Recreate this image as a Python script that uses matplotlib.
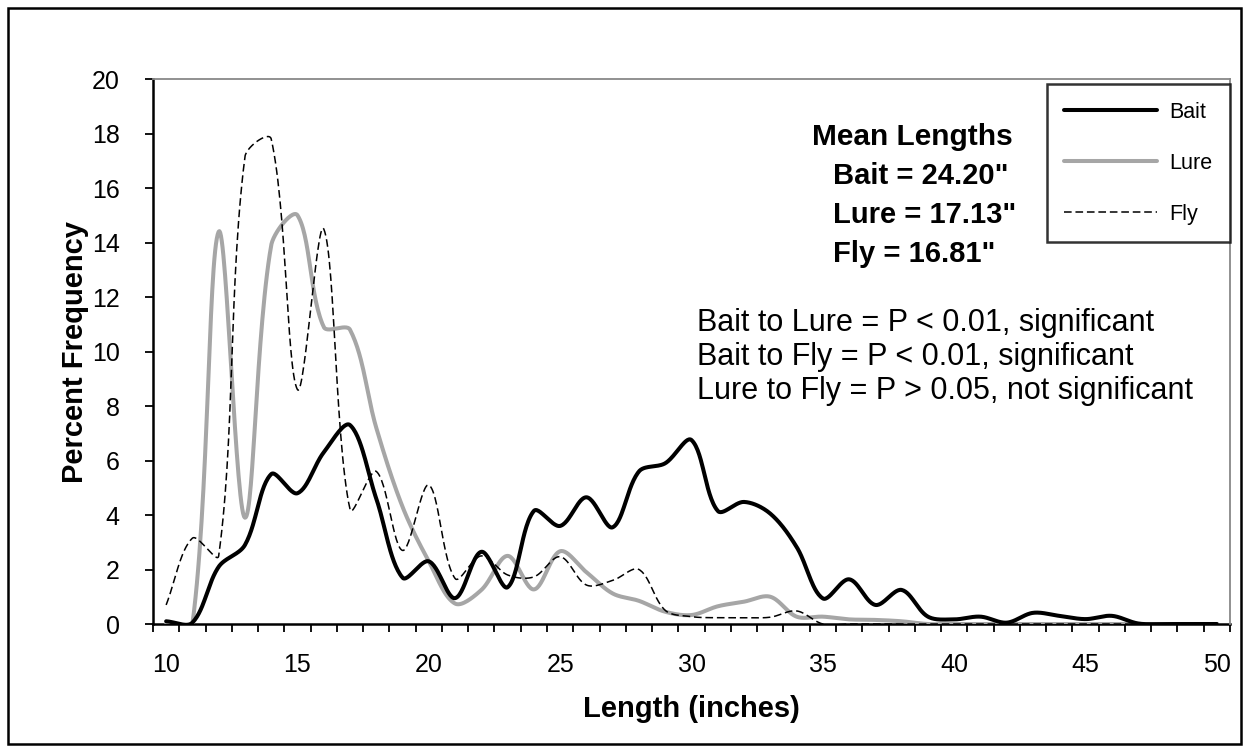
import numpy as np
import matplotlib
matplotlib.use("Agg")
import matplotlib.pyplot as plt
from matplotlib.patches import Rectangle

plt.rcParams['font.family'] = ['Liberation Sans', 'DejaVu Sans']

lengths = list(range(10, 51))
bait = [0.1, 0.05, 2.1, 2.9, 5.5, 4.8, 6.3, 7.3, 4.6, 1.7, 2.3, 0.95, 2.65, 1.35, 4.15, 3.6,
        4.65, 3.55, 5.6, 5.9, 6.75, 4.15, 4.48, 4.05, 2.83, 0.94, 1.64, 0.7, 1.25, 0.27, 0.17,
        0.27, 0.05, 0.41, 0.3, 0.18, 0.3, 0.02, 0.0, 0.0, 0.0]
lure = [0.0, 0.0, 14.4, 3.9, 13.9, 15.0, 10.9, 10.8, 7.2, 4.3, 2.3, 0.75, 1.25, 2.5, 1.27, 2.67,
        1.9, 1.12, 0.85, 0.45, 0.33, 0.65, 0.82, 1.0, 0.27, 0.27, 0.17, 0.15, 0.1, 0.0, 0.0,
        0.0, 0.0, 0.0, 0.0, 0.0, 0.0, 0.0, 0.0, 0.0, 0.0]
fly = [0.7, 3.15, 2.5, 17.15, 17.8, 8.6, 14.5, 4.2, 5.6, 2.7, 5.1, 1.67, 2.5, 1.8, 1.73, 2.47,
       1.43, 1.6, 2.0, 0.5, 0.27, 0.23, 0.23, 0.25, 0.48, 0.0, 0.0, 0.0, 0.0, 0.0, 0.0,
       0.0, 0.0, 0.0, 0.0, 0.0, 0.0, 0.0, 0.0, 0.0, 0.0]
series_names = ["Bait", "Lure", "Fly"]
x_tick_labels = [10, 15, 20, 25, 30, 35, 40, 45, 50]
y_ticks = list(range(0, 21, 2))
mean_title = "Mean Lengths"
mean_lines = ['Bait = 24.20"', 'Lure = 17.13"', 'Fly = 16.81"']
stats_lines = ["Bait to Lure = P < 0.01, significant",
               "Bait to Fly = P < 0.01, significant",
               "Lure to Fly = P > 0.05, not significant"]

XS, YS = 26.2, 27.3  # approx. screen scale (px per unit) used for smoothing weights


def smooth(xs, ys, n=30):
    """Excel-like smoothed line: Bezier segments with chord-weighted tangents (drawing only)."""
    x = np.asarray(xs, float) * XS
    y = np.asarray(ys, float) * YS
    P = np.column_stack([x, y])
    m = len(P)
    d = np.hypot(np.diff(x), np.diff(y))
    ox, oy = [], []
    for i in range(m - 1):
        p1, p2 = P[i], P[i + 1]
        p0 = P[i - 1] if i > 0 else P[i]
        p3 = P[i + 2] if i + 2 < m else P[i + 1]
        d01 = d[i - 1] if i > 0 else 0.0
        d12 = d[i]
        d23 = d[i + 1] if i + 1 < m - 1 else 0.0
        s1 = 2 * d12 / (d01 + d12) if (d01 + d12) > 0 else 0
        s2 = 2 * d12 / (d12 + d23) if (d12 + d23) > 0 else 0
        c1 = p1 + (p2 - p0) / 6.0 * s1
        c2 = p2 - (p3 - p1) / 6.0 * s2
        t = np.linspace(0, 1, n, endpoint=(i == m - 2))
        b = ((1 - t) ** 3)[:, None] * p1 + (3 * (1 - t) ** 2 * t)[:, None] * c1 + \
            (3 * (1 - t) * t ** 2)[:, None] * c2 + (t ** 3)[:, None] * p2
        ox.extend(b[:, 0] / XS); oy.extend(b[:, 1] / YS)
    return np.array(ox), np.array(oy)


fig = plt.figure(figsize=(12.49, 7.52), dpi=100)
ax = fig.add_axes([0.1225, 0.1702, 0.9848 - 0.1225, 0.8949 - 0.1702])

sx, sy = smooth(lengths, bait)
ax.plot(sx, sy, color="black", lw=2.9, solid_capstyle="round", label=series_names[0], zorder=3)
sx, sy = smooth(lengths, lure)
ax.plot(sx, sy, color="#a6a6a6", lw=2.9, solid_capstyle="round", label=series_names[1], zorder=2)
sx, sy = smooth(lengths, fly)
ax.plot(sx, sy, color="black", lw=1.1, ls=(0, (5, 2.5)), label=series_names[2], zorder=4)

ax.set_xlim(9.5, 50.5)
ax.set_ylim(0, 20)
ax.set_yticks(y_ticks)
ax.set_xticks(x_tick_labels)
ax.set_xticks(np.arange(9.5, 50.6, 1.0), minor=True)
ax.tick_params(axis="x", which="major", length=0, pad=21, labelsize=18)
ax.tick_params(axis="x", which="minor", length=6, width=1.3, direction="out")
ax.tick_params(axis="y", length=6, width=1.3, direction="out", pad=18, labelsize=18)

for s in ("left", "bottom"):
    ax.spines[s].set_color("black")
    ax.spines[s].set_linewidth(1.8)
    ax.spines[s].set_zorder(1)
for s in ("top", "right"):
    ax.spines[s].set_color("#888888")
    ax.spines[s].set_linewidth(1.3)

ax.set_xlabel("Length (inches)", fontsize=21, fontweight="bold", labelpad=13)
ax.set_ylabel("Percent Frequency", fontsize=21, fontweight="bold", labelpad=2)

leg = ax.legend(loc="upper right", bbox_to_anchor=(1.0, 0.99), fontsize=15.5, frameon=True,
                fancybox=False, handlelength=4.3, handletextpad=0.6, labelspacing=1.4,
                borderpad=0.8, borderaxespad=0)
leg.get_frame().set_edgecolor("black")
leg.get_frame().set_linewidth(1.8)

fig.text(912 / 1249, 1 - 137 / 752, mean_title, ha="center", va="center",
         fontsize=21.5, fontweight="bold")
for i, t in enumerate(mean_lines):
    fig.text(833 / 1249, 1 - (176 + 39 * i) / 752, t, ha="left", va="center",
             fontsize=21, fontweight="bold")
for i, t in enumerate(stats_lines):
    fig.text(697 / 1249, 1 - (323 + 34 * i) / 752, t, ha="left", va="center", fontsize=22)

fig.patches.append(Rectangle((8 / 1249, 8 / 752), 1 - 16 / 1249, 1 - 16 / 752,
                             transform=fig.transFigure, fill=False, edgecolor="black",
                             linewidth=1.8))

fig.savefig("out.png", dpi=100)
